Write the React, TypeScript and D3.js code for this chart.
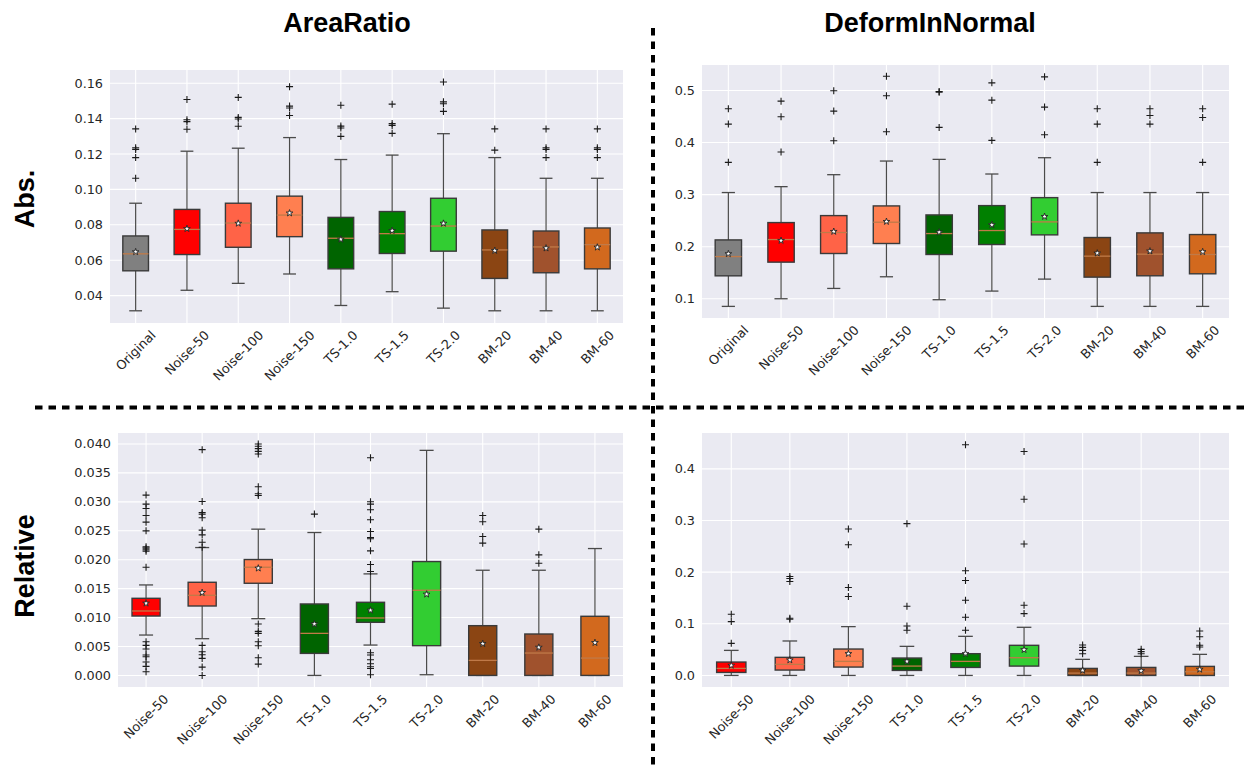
import React from "react";
import * as d3 from "d3";

// ---------- DATA ----------
const absCategories = ["Original", "Noise-50", "Noise-100", "Noise-150", "TS-1.0", "TS-1.5", "TS-2.0", "BM-20", "BM-40", "BM-60"];
const relCategories = ["Noise-50", "Noise-100", "Noise-150", "TS-1.0", "TS-1.5", "TS-2.0", "BM-20", "BM-40", "BM-60"];
const categoryColors: Record<string, string> = {
  "Original": "#808080",
  "Noise-50": "#ff0000",
  "Noise-100": "#ff6347",
  "Noise-150": "#ff7f50",
  "TS-1.0": "#006400",
  "TS-1.5": "#008000",
  "TS-2.0": "#32cd32",
  "BM-20": "#8b4513",
  "BM-40": "#a0522d",
  "BM-60": "#d2691e",
};

const columnTitles = ["AreaRatio", "DeformInNormal"];
const rowTitles = ["Abs.", "Relative"];

// [whisker low, Q1, median, Q3, whisker high]
const areaAbsBox: number[][] = [
  [0.0314, 0.054, 0.0636, 0.0737, 0.0922],
  [0.043, 0.0632, 0.0774, 0.0887, 0.1216],
  [0.0469, 0.0673, 0.081, 0.0922, 0.1233],
  [0.0522, 0.0733, 0.0855, 0.0962, 0.1293],
  [0.0344, 0.0551, 0.0724, 0.0842, 0.1169],
  [0.0422, 0.0638, 0.075, 0.0875, 0.1194],
  [0.0329, 0.0651, 0.0793, 0.095, 0.1315],
  [0.0314, 0.0497, 0.0658, 0.0771, 0.118],
  [0.0314, 0.0529, 0.0675, 0.0765, 0.1063],
  [0.0314, 0.0551, 0.0688, 0.0782, 0.1063],
];
const areaAbsMean = [0.0647, 0.0778, 0.0808, 0.0866, 0.0718, 0.0767, 0.0808, 0.0654, 0.0668, 0.0673];
const areaAbsFliers: number[][] = [
  [0.1342, 0.1235, 0.1226, 0.118, 0.1063],
  [0.1508, 0.1394, 0.1383, 0.134],
  [0.152, 0.1407, 0.1398, 0.1357],
  [0.1581, 0.1471, 0.146, 0.1418],
  [0.1476, 0.1358, 0.1347, 0.13],
  [0.1482, 0.1372, 0.1362, 0.1317],
  [0.1607, 0.1495, 0.1484, 0.1441],
  [0.1342, 0.1222],
  [0.1342, 0.1235, 0.1226, 0.118],
  [0.1342, 0.1235, 0.1226, 0.118],
];

const deformAbsBox: number[][] = [
  [0.0853, 0.144, 0.181, 0.213, 0.304],
  [0.1, 0.1703, 0.2137, 0.2463, 0.3153],
  [0.1198, 0.1869, 0.2272, 0.2597, 0.3383],
  [0.1422, 0.2061, 0.247, 0.2783, 0.3645],
  [0.0981, 0.185, 0.2252, 0.261, 0.3677],
  [0.1147, 0.2042, 0.231, 0.2789, 0.3396],
  [0.1377, 0.2227, 0.2476, 0.2942, 0.3709],
  [0.0853, 0.1415, 0.1818, 0.2176, 0.304],
  [0.0853, 0.1441, 0.1856, 0.2265, 0.304],
  [0.0853, 0.1479, 0.185, 0.2233, 0.304],
];
const deformAbsMean = [0.1863, 0.2118, 0.2291, 0.2482, 0.2278, 0.2419, 0.2578, 0.1875, 0.1914, 0.1901];
const deformAbsFliers: number[][] = [
  [0.4649, 0.4355, 0.362],
  [0.4796, 0.4495, 0.3818],
  [0.4994, 0.4604, 0.4035],
  [0.5275, 0.4898, 0.4208],
  [0.498, 0.4968, 0.4291],
  [0.5147, 0.4815, 0.4042],
  [0.5262, 0.4681, 0.415],
  [0.4649, 0.4355, 0.362],
  [0.4649, 0.4521, 0.4355],
  [0.4649, 0.4482, 0.362],
];

const areaRelBox: number[][] = [
  [0.00698, 0.01027, 0.01114, 0.01333, 0.01564],
  [0.00635, 0.012, 0.01385, 0.0161, 0.0221],
  [0.00981, 0.01593, 0.0187, 0.02003, 0.02528],
  [0.0, 0.00381, 0.00727, 0.01235, 0.0247],
  [0.00525, 0.00918, 0.00993, 0.01264, 0.01755],
  [0.00012, 0.00514, 0.01472, 0.01968, 0.0389],
  [0.0, 0.0, 0.0026, 0.0086, 0.01818],
  [0.0, 0.0, 0.00387, 0.00716, 0.01818],
  [0.0, 0.0, 0.003, 0.01022, 0.02193],
];
const areaRelMean = [0.01247, 0.01431, 0.01853, 0.00889, 0.01126, 0.01403, 0.00548, 0.00485, 0.00566];
const areaRelFliers: number[][] = [
  [0.03117, 0.02961, 0.02886, 0.02765, 0.02649, 0.02499, 0.02222, 0.022, 0.0217, 0.02145, 0.0187,
    0.00583, 0.0052, 0.00456, 0.00352, 0.00323, 0.00231, 0.00156, 0.00064],
  [0.03902, 0.03007, 0.02817, 0.02788, 0.02724, 0.02511, 0.0243, 0.02303, 0.02216,
    0.0052, 0.0041, 0.00358, 0.00294, 0.00144, 0.0],
  [0.04, 0.0396, 0.0392, 0.03873, 0.03827, 0.03261, 0.0314, 0.03111,
    0.00889, 0.00762, 0.00727, 0.00583, 0.00514, 0.00306, 0.00196],
  [0.02788],
  [0.03763, 0.03001, 0.02961, 0.02863, 0.0269, 0.02488, 0.02384, 0.02361, 0.02153, 0.01916, 0.01795,
    0.00392, 0.00352, 0.00271, 0.00202, 0.0015, 0.00121, 0.00012],
  [],
  [0.02765, 0.02655, 0.02401, 0.02286],
  [0.02528, 0.02084, 0.0194],
  [],
];

const deformRelBox: number[][] = [
  [0.0, 0.0058, 0.0136, 0.0259, 0.0485],
  [0.0, 0.0104, 0.0214, 0.035, 0.0667],
  [0.0, 0.0162, 0.0272, 0.0511, 0.0945],
  [0.0, 0.0097, 0.0181, 0.0337, 0.0563],
  [0.0, 0.0155, 0.0272, 0.0421, 0.0757],
  [0.0, 0.0181, 0.0343, 0.0583, 0.0932],
  [0.0, 0.0, 0.0045, 0.0136, 0.0311],
  [0.0, 0.0, 0.0045, 0.0155, 0.0369],
  [0.0, 0.0, 0.0071, 0.0175, 0.0408],
];
const deformRelMean = [0.0194, 0.0298, 0.0421, 0.0272, 0.0421, 0.0498, 0.0097, 0.009, 0.0117];
const deformRelFliers: number[][] = [
  [0.1184, 0.1042, 0.0621],
  [0.1916, 0.1877, 0.1819, 0.1107, 0.1087],
  [0.2835, 0.2531, 0.1702, 0.1528],
  [0.2939, 0.134, 0.0958, 0.0874],
  [0.4466, 0.2026, 0.1838, 0.1456, 0.1126, 0.0874],
  [0.4337, 0.3411, 0.2544, 0.1359, 0.1197],
  [0.0589, 0.0544, 0.0485, 0.0421],
  [0.0505, 0.046, 0.0421],
  [0.0861, 0.075, 0.0583, 0.055],
];

const areaAbsTicks = [0.04, 0.06, 0.08, 0.1, 0.12, 0.14, 0.16];
const deformAbsTicks = [0.1, 0.2, 0.3, 0.4, 0.5];
const areaRelTicks = [0.0, 0.005, 0.01, 0.015, 0.02, 0.025, 0.03, 0.035, 0.04];
const deformRelTicks = [0.0, 0.1, 0.2, 0.3, 0.4];

// ---------- LAYOUT ----------
const TICK_FONT = "DejaVu Sans";
const TICK_SIZE = 12.8;
const TITLE_FONT = "'Liberation Sans', Arial, Helvetica, sans-serif";

let measureCtx: CanvasRenderingContext2D | null = null;
function textWidth(s: string): number {
  if (!measureCtx) {
    const c = document.createElement("canvas");
    measureCtx = c.getContext("2d");
  }
  if (!measureCtx) return s.length * 7.5;
  measureCtx.font = `${TICK_SIZE}px "${TICK_FONT}"`;
  return measureCtx.measureText(s).width;
}

type PanelProps = {
  left: number; right: number; top: number; bottom: number;
  domain: [number, number];
  categories: string[];
  box: number[][];
  means: number[];
  fliers: number[][];
  ticks: number[];
  fmt: string;
};

function Panel(p: PanelProps) {
  const x = d3.scaleBand<string>().domain(p.categories).range([p.left, p.right]).padding(0);
  const y = d3.scaleLinear().domain(p.domain).range([p.bottom, p.top]);
  const bw = x.bandwidth() * 0.5;
  const fmt = d3.format(p.fmt);
  const star = d3.symbol().type(d3.symbolStar).size(14)() as string;
  const edge = "#3a3a3a";
  const whisk = "#4a4a4a";
  return (
    <g>
      <rect x={p.left} y={p.top} width={p.right - p.left} height={p.bottom - p.top} fill="#eaeaf2" />
      {p.ticks.map((t) => (
        <line key={"gy" + t} x1={p.left} x2={p.right} y1={y(t)} y2={y(t)} stroke="#fff" strokeWidth={1.1} />
      ))}
      {p.categories.map((c) => {
        const cx = (x(c) as number) + x.bandwidth() / 2;
        return <line key={"gx" + c} x1={cx} x2={cx} y1={p.top} y2={p.bottom} stroke="#fff" strokeWidth={1.1} />;
      })}
      {p.ticks.map((t) => (
        <text key={"ty" + t} x={p.left - 7} y={y(t)} textAnchor="end" dominantBaseline="central"
          fontFamily={TICK_FONT} fontSize={TICK_SIZE} fill="#262626">{fmt(t)}</text>
      ))}
      {p.categories.map((c) => {
        const cx = (x(c) as number) + x.bandwidth() / 2;
        const w = textWidth(c);
        const h = TICK_SIZE * 1.05;
        const cy = p.bottom + 5 + (w + h) / (2 * Math.SQRT2);
        return (
          <text key={"tx" + c} transform={`translate(${cx},${cy}) rotate(-45)`} textAnchor="middle"
            dominantBaseline="central" fontFamily={TICK_FONT} fontSize={TICK_SIZE} fill="#262626">{c}</text>
        );
      })}
      {p.categories.map((c, i) => {
        const cx = (x(c) as number) + x.bandwidth() / 2;
        const [lo, q1, med, q3, hi] = p.box[i];
        return (
          <g key={"b" + c}>
            <line x1={cx} x2={cx} y1={y(q3)} y2={y(hi)} stroke={whisk} strokeWidth={1.2} />
            <line x1={cx} x2={cx} y1={y(q1)} y2={y(lo)} stroke={whisk} strokeWidth={1.2} />
            <line x1={cx - bw / 4} x2={cx + bw / 4} y1={y(hi)} y2={y(hi)} stroke={whisk} strokeWidth={1.3} />
            <line x1={cx - bw / 4} x2={cx + bw / 4} y1={y(lo)} y2={y(lo)} stroke={whisk} strokeWidth={1.3} />
            <rect x={cx - bw / 2} y={y(q3)} width={bw} height={Math.max(0, y(q1) - y(q3))}
              fill={categoryColors[c]} stroke={edge} strokeWidth={1.4} />
            <line x1={cx - bw / 2} x2={cx + bw / 2} y1={y(med)} y2={y(med)} stroke="#c07a48" strokeWidth={1.3} />
            {p.fliers[i].map((f, j) => (
              <path key={j} d={`M${cx - 3.5},${y(f)}H${cx + 3.5}M${cx},${y(f) - 3.5}V${y(f) + 3.5}`}
                stroke="#1a1a1a" strokeWidth={1.1} fill="none" />
            ))}
            <path d={star} transform={`translate(${cx},${y(p.means[i])})`} fill="#ffffff" stroke="#222" strokeWidth={0.9} />
          </g>
        );
      })}
    </g>
  );
}

export default function App() {
  return (
    <svg width={1248} height={766} style={{ position: "absolute", left: 0, top: 0, background: "#fff" }}>
      <Panel left={110} right={623} top={70} bottom={323} domain={[0.0245, 0.1675]}
        categories={absCategories} box={areaAbsBox} means={areaAbsMean} fliers={areaAbsFliers}
        ticks={areaAbsTicks} fmt=".2f" />
      <Panel left={702} right={1229} top={65} bottom={318} domain={[0.063, 0.549]}
        categories={absCategories} box={deformAbsBox} means={deformAbsMean} fliers={deformAbsFliers}
        ticks={deformAbsTicks} fmt=".1f" />
      <Panel left={118} right={623} top={433} bottom={687} domain={[-0.002, 0.0419]}
        categories={relCategories} box={areaRelBox} means={areaRelMean} fliers={areaRelFliers}
        ticks={areaRelTicks} fmt=".3f" />
      <Panel left={702} right={1229} top={433} bottom={687} domain={[-0.0224, 0.4694]}
        categories={relCategories} box={deformRelBox} means={deformRelMean} fliers={deformRelFliers}
        ticks={deformRelTicks} fmt=".1f" />

      <text x={347} y={32} textAnchor="middle" fontFamily={TITLE_FONT} fontWeight="bold" fontSize={27} fill="#000">{columnTitles[0]}</text>
      <text x={930} y={32} textAnchor="middle" fontFamily={TITLE_FONT} fontWeight="bold" fontSize={27} fill="#000">{columnTitles[1]}</text>
      <text transform="translate(34,199) rotate(-90)" textAnchor="middle" fontFamily={TITLE_FONT} fontWeight="bold" fontSize={27} fill="#000">{rowTitles[0]}</text>
      <text transform="translate(34,566) rotate(-90)" textAnchor="middle" fontFamily={TITLE_FONT} fontWeight="bold" fontSize={27} fill="#000">{rowTitles[1]}</text>

      <line x1={35} x2={1248} y1={407.5} y2={407.5} stroke="#000" strokeWidth={4} strokeDasharray="7.5,6" />
      <line x1={653} x2={653} y1={28} y2={766} stroke="#000" strokeWidth={4} strokeDasharray="7.5,6" />
    </svg>
  );
}
